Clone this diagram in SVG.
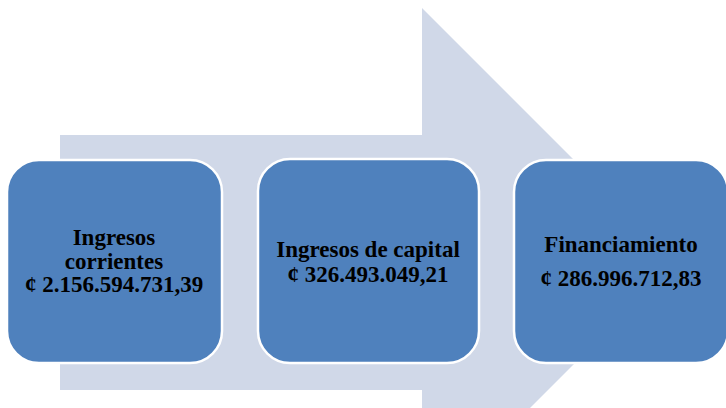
<svg xmlns="http://www.w3.org/2000/svg" width="726" height="408" viewBox="0 0 726 408">
<style>
.box{fill:#4F81BD;stroke:#FFFFFF;stroke-width:2.5}
.t{font-family:"Liberation Serif","Times New Roman",serif;font-weight:bold;font-size:23px;fill:#000;text-anchor:middle}
</style>
<rect width="726" height="408" fill="#FFFFFF"/>
<g id="arrow">
<polygon points="60,135 422,135 422,8 676,262 422,516 422,390 60,390" fill="#D0D8E8"/>
</g>
<g id="node1">
<rect class="box" x="7" y="160" width="215" height="203" rx="32" ry="32"/>
<text class="t" x="114" y="245">Ingresos</text>
<text class="t" x="114" y="269">corrientes</text>
<text class="t" x="114" y="292">¢ 2.156.594.731,39</text>
</g>
<g id="node2">
<rect class="box" x="258" y="159" width="221" height="204" rx="32" ry="32"/>
<text class="t" x="368" y="257">Ingresos de capital</text>
<text class="t" x="368" y="282">¢ 326.493.049,21</text>
</g>
<g id="node3">
<rect class="box" x="514" y="160" width="214" height="203" rx="32" ry="32"/>
<text class="t" x="621" y="252">Financiamiento</text>
<text class="t" x="621" y="286">¢ 286.996.712,83</text>
</g>
<g id="connectors"></g>
</svg>
